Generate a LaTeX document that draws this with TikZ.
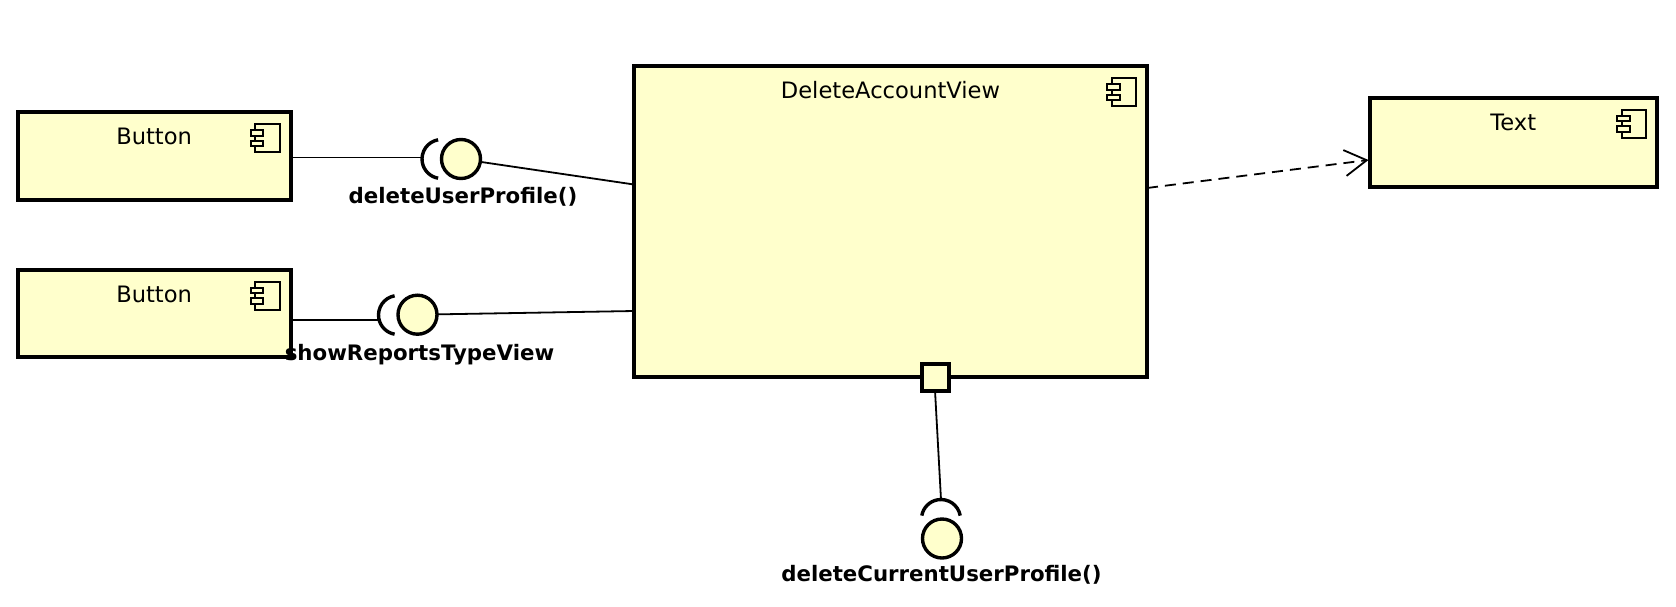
\documentclass[tikz,border=0pt]{standalone}
\usepackage{fontspec}
\setmainfont{DejaVu Sans}
\usetikzlibrary{arrows.meta,calc}
\definecolor{compfill}{HTML}{FFFFCC}
\tikzset{
 comp/.style={draw=black, line width=2pt, fill=compfill, rectangle, inner sep=0pt, outer sep=0pt},
 ttl/.style={anchor=base, inner sep=0pt, font=\fontsize{11.3pt}{13pt}\selectfont},
 ifl/.style={anchor=base, inner sep=0pt, font=\fontsize{10.65pt}{12pt}\selectfont\bfseries},
 ball/.style={circle, draw=black, line width=1.7pt, fill=compfill, minimum size=19.5pt, inner sep=0pt, outer sep=0pt},
 socket/.style={draw=black, line width=1.7pt},
 conn/.style={draw=black, line width=0.9pt},
 dep/.style={draw=black, line width=0.9pt, dash pattern=on 5.5pt off 3.5pt, -{Straight Barb[length=11pt,width=13pt]}},
 iconline/.style={draw=black, line width=1pt, fill=compfill},
 portbox/.style={rectangle, draw=black, line width=2pt, fill=compfill, minimum size=13.5pt, inner sep=0pt, outer sep=0pt},
}
\newcommand\compicon[1]{%
 \draw[iconline] ($(#1.north east)+(-35.5,-12)$) rectangle ($(#1.north east)+(-11,-40)$);
 \draw[iconline] ($(#1.north east)+(-40,-18)$) rectangle ($(#1.north east)+(-27.5,-23.5)$);
 \draw[iconline] ($(#1.north east)+(-40,-28.5)$) rectangle ($(#1.north east)+(-27.5,-34)$);
}
\begin{document}
\begin{tikzpicture}[x=0.5pt,y=0.5pt]
\path[use as bounding box, fill=white] (0,0) rectangle (1676,-606);
% components
\node[comp, minimum width=136.6pt, minimum height=43.75pt] (b1) at (154.1,-155.75) {};
\node[comp, minimum width=136.6pt, minimum height=43.75pt] (b2) at (154.1,-313.25) {};
\node[comp, minimum width=256.5pt, minimum height=155.5pt] (dav) at (890.5,-221.5) {};
\node[comp, minimum width=143.75pt, minimum height=44.6pt] (txt) at (1513.25,-142.1) {};
\compicon{b1}
\compicon{b2}
\compicon{dav}
\compicon{txt}
\node[ttl] (t1) at (154.1,-144.5) {Button};
\node[ttl] (t2) at (154.1,-302) {Button};
\node[ttl] (t3) at (890.5,-98.5) {DeleteAccountView};
\node[ttl] (t4) at (1513.25,-130) {Text};
% port
\node[portbox] (port) at (935,-377) {};
% balls
\node[ball] (ball1) at (461,-159) {};
\node[ball] (ball2) at (417.5,-314.7) {};
\node[ball] (ball3) at (942,-538.5) {};
% sockets
\draw[socket] (441.5,-159) ++(100:19.5) arc[start angle=100, end angle=260, radius=19.5];
\draw[socket] (398,-315) ++(100:19.5) arc[start angle=100, end angle=260, radius=19.5];
\draw[socket] (941,-519) ++(10:19.5) arc[start angle=10, end angle=170, radius=19.5];
% connector end points
\coordinate (s1l) at (422.5,-157.5);
\coordinate (s2l) at (379.2,-320);
\coordinate (s3t) at (941,-499.5);
\coordinate (d1) at (634,-184.5);
\coordinate (d2) at (634,-311);
\coordinate (depstart) at (1147,-188);
\coordinate (depend) at (1368.5,-160);
% connectors
\draw[conn] (b1.east |- s1l) -- (s1l);
\draw[conn] (ball1) -- (d1);
\draw[conn] (b2.east |- s2l) -- (s2l);
\draw[conn] (ball2) -- (d2);
\draw[conn] (port.south) -- (s3t);
\draw[dep] (depstart) -- (depend);
% interface labels
\node[ifl] (l1) at (463,-203) {deleteUserProfile()};
\node[ifl] (l2) at (419.5,-360) {showReportsTypeView};
\node[ifl] (l3) at (941.5,-581.7) {deleteCurrentUserProfile()};
\end{tikzpicture}
\end{document}
